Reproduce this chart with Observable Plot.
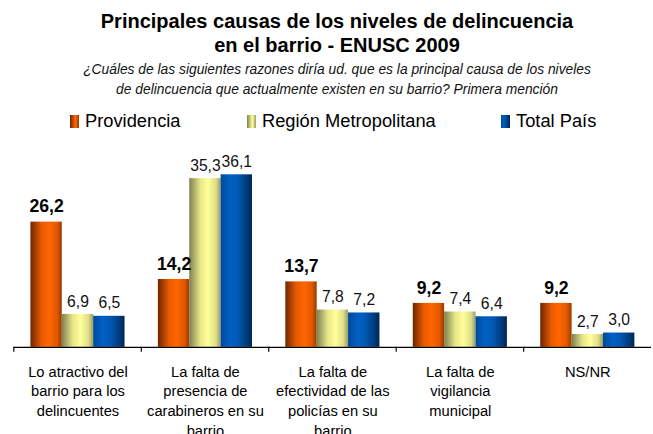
<!DOCTYPE html>
<html>
<head>
<meta charset="utf-8">
<script src="https://cdn.jsdelivr.net/npm/d3@7"></script>
<script src="https://cdn.jsdelivr.net/npm/@observablehq/plot@0.6"></script>
<style>
  html, body { margin: 0; padding: 0; background: #fff; overflow: hidden; width: 653px; height: 434px; }
  body { font-family: "Liberation Sans", Arial, sans-serif; position: relative; }
  #head { position: absolute; left: 0; top: 0; width: 674px; text-align: center; color: #000; }
  #title { font-weight: bold; font-size: 20px; line-height: 24px; margin-top: 9px; }
  #sub { font-style: italic; font-size: 13.8px; line-height: 20px; margin-top: 3px; color: #111; }
  .leg { position: absolute; top: 110px; font-size: 18.3px; line-height: 22px; white-space: nowrap; }
  .leg span.sw { display: inline-block; width: 9px; height: 13px; margin-right: 6px; vertical-align: -1px; }
  #chart { position: absolute; left: 0; top: 140px; }
</style>
</head>
<body>
<svg width="0" height="0" style="position:absolute">
  <defs>
    <linearGradient id="gP" x1="0" y1="0" x2="1" y2="0">
      <stop offset="0" stop-color="#6e2500"/>
      <stop offset="0.35" stop-color="#e85a00"/>
      <stop offset="0.6" stop-color="#ff6600"/>
      <stop offset="0.85" stop-color="#e05800"/>
      <stop offset="1" stop-color="#9a3a00"/>
    </linearGradient>
    <linearGradient id="gR" x1="0" y1="0" x2="1" y2="0">
      <stop offset="0" stop-color="#7f7f50"/>
      <stop offset="0.35" stop-color="#e6e68a"/>
      <stop offset="0.6" stop-color="#ffff99"/>
      <stop offset="0.85" stop-color="#dede88"/>
      <stop offset="1" stop-color="#9a9a68"/>
    </linearGradient>
    <linearGradient id="gT" x1="0" y1="0" x2="1" y2="0">
      <stop offset="0" stop-color="#004a99"/>
      <stop offset="0.3" stop-color="#0060c4"/>
      <stop offset="0.55" stop-color="#0058b4"/>
      <stop offset="0.85" stop-color="#003a78"/>
      <stop offset="1" stop-color="#002550"/>
    </linearGradient>
  </defs>
</svg>
<div id="head">
  <div id="title">Principales causas de los niveles de delincuencia<br>en el barrio - ENUSC 2009</div>
  <div id="sub">¿Cuáles de las siguientes razones diría ud. que es la principal causa de los niveles<br>de delincuencia que actualmente existen en su barrio? Primera mención</div>
</div>
<div id="legend"></div>
<div id="chart"></div>
<script>
const categories = [
  "Lo atractivo del\nbarrio para los\ndelincuentes",
  "La falta de\npresencia de\ncarabineros en su\nbarrio",
  "La falta de\nefectividad de las\npolicías en su\nbarrio",
  "La falta de\nvigilancia\nmunicipal",
  "NS/NR"
];
const series = ["Providencia", "Región Metropolitana", "Total País"];
const providencia = [26.2, 14.2, 13.7, 9.2, 9.2];
const regionMetropolitana = [6.9, 35.3, 7.8, 7.4, 2.7];
const totalPais = [6.5, 36.1, 7.2, 6.4, 3.0];

const fills = ["url(#gP)", "url(#gR)", "url(#gT)"];
const legendX = [70, 247, 501];

const rows = [];
[providencia, regionMetropolitana, totalPais].forEach((vals, si) => {
  vals.forEach((v, ci) => rows.push({cause: categories[ci], series: series[si], value: v}));
});
const fmt = v => v.toFixed(1).replace(".", ",");

const leg = document.getElementById("legend");
const css = ["linear-gradient(90deg,#6e2500,#ff6600 60%,#9a3a00)",
             "linear-gradient(90deg,#7f7f50,#ffff99 60%,#9a9a68)",
             "linear-gradient(90deg,#004a99,#0060c4 30%,#002550)"];
series.forEach((s, i) => {
  const d = document.createElement("div");
  d.className = "leg";
  d.style.left = legendX[i] + "px";
  d.innerHTML = `<span class="sw" style="background:${css[i]}"></span>${s}`;
  leg.appendChild(d);
});

const W = 666, H = 294, mT = 35, mB = 83, bw = (W - 12) / categories.length;
const chart = Plot.plot({
  width: W,
  height: H,
  marginLeft: 12,
  marginRight: 0,
  marginTop: mT,
  marginBottom: mB,
  style: {fontFamily: "Liberation Sans, Arial, sans-serif", color: "#000", background: "transparent", overflow: "visible"},
  fx: {domain: categories, padding: 0, label: null, axis: null},
  x: {domain: series, paddingInner: 0, paddingOuter: 0.48, axis: null},
  y: {domain: [0, 36.1], range: [H - mB, mT], axis: null},
  color: {domain: series, range: fills},
  marks: [
    Plot.barY(rows, {fx: "cause", x: "series", y: "value", fill: "series"}),
    Plot.ruleY([0], {stroke: "#000", strokeWidth: 1.2}),
    Plot.axisFx({anchor: "bottom", tickSize: 5, dx: -bw / 2, tickFormat: () => "", stroke: "#000", strokeWidth: 1.2, label: null}),
    Plot.axisFx({anchor: "bottom", tickSize: 0, tickPadding: 16, fontSize: 15, lineHeight: 1.33, label: null, fill: "#000"}),
    Plot.text(rows.filter(d => d.series === "Providencia"), {
      fx: "cause", x: "series", y: "value", text: d => fmt(d.value),
      lineAnchor: "bottom", dy: -10, fontSize: 18, fontWeight: "bold", fill: "#000"
    }),
    Plot.text(rows.filter(d => d.series !== "Providencia"), {
      fx: "cause", x: "series", y: "value", text: d => fmt(d.value),
      lineAnchor: "bottom", dy: -8, fontSize: 16, fill: "#111"
    })
  ]
});
document.getElementById("chart").appendChild(chart);
</script>
</body>
</html>
